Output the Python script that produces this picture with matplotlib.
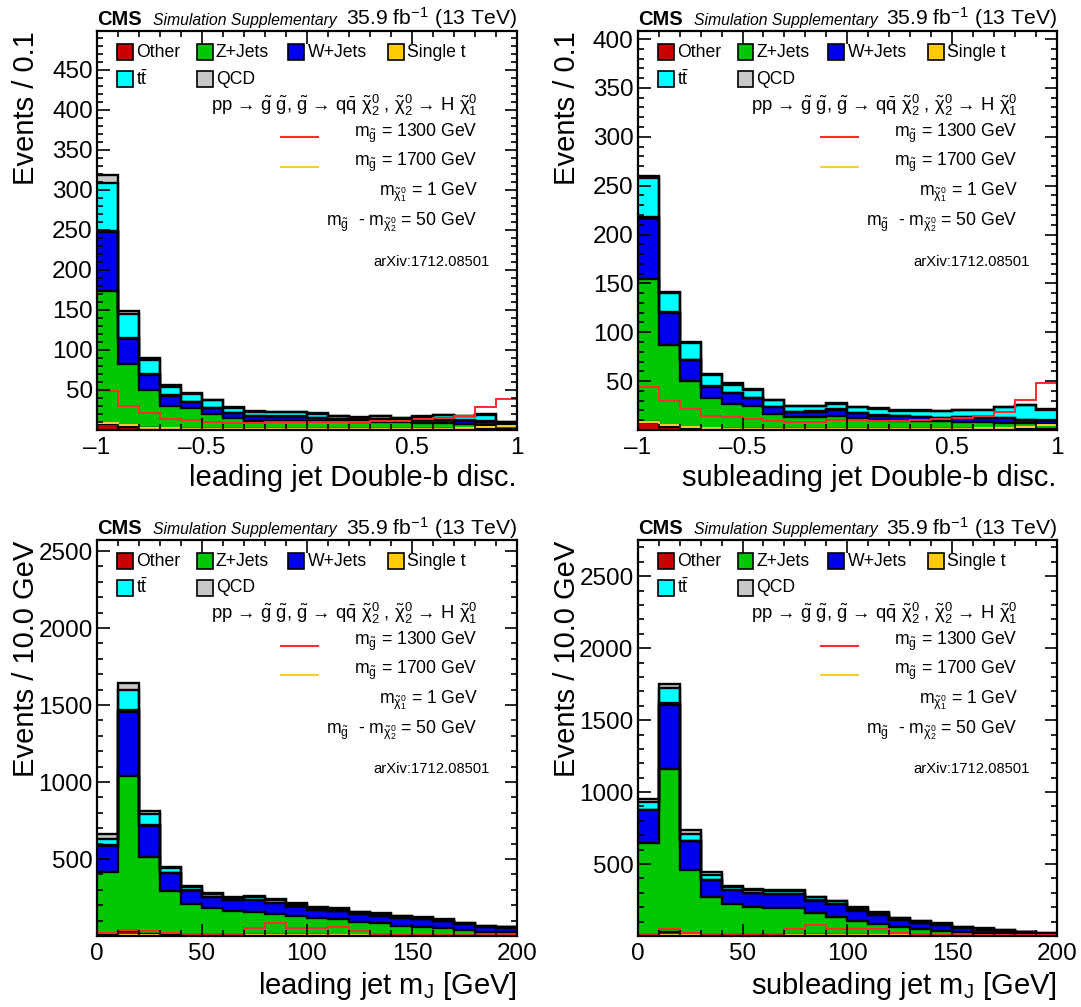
import numpy as np
import matplotlib
matplotlib.use("Agg")
import matplotlib.pyplot as plt
from matplotlib.patches import Rectangle
from matplotlib.ticker import MultipleLocator, FuncFormatter

plt.rcParams['font.family'] = ['Liberation Sans', 'DejaVu Sans']
plt.rcParams['mathtext.fontset'] = 'custom'
plt.rcParams['mathtext.rm'] = 'Liberation Sans'
plt.rcParams['mathtext.it'] = 'Liberation Sans'
plt.rcParams['mathtext.bf'] = 'Liberation Sans:bold'

# backgrounds, stacked bottom -> top in legend order
names = ['Other', 'Z+Jets', 'W+Jets', 'Single t', r't$\bar{t}$', 'QCD']
colors = ['#cc0000', '#00c800', '#0000f0', '#ffcc00', '#00ffff', '#c8c8c8']

disc_edges = np.linspace(-1, 1, 21)
mass_edges = np.linspace(0, 200, 21)

# leading jet double-b
tl_other = [8, 4, 2, 1.5, 1.5, 1, 1, 1, 1, 1, 1, 1, 1, 1, 1, 1, 1, 1, 1, 1]
tl_zjets = [166, 78, 48, 28.5, 25.5, 19, 13.6, 10.7, 10.7, 10.7, 10.5, 10, 9.5, 9, 8.5, 8, 7.3, 6.5, 5.7, 4.4]
tl_wjets = [73, 32, 19, 13, 8, 7, 6.4, 5.8, 5, 5, 3.5, 3, 2.5, 3, 2.5, 3, 4.7, 4.2, 3.7, 1.1]
tl_singlet = [2, 1, 0.5, 0.5, 0.5, 0.3, 0.3, 0.3, 0.3, 0.3, 0.3, 0.3, 0.3, 0.3, 0.3, 0.3, 0.5, 0.5, 0.5, 0.5]
tl_ttbar = [60, 30, 18.5, 10.5, 9.5, 9.7, 6.7, 5.2, 5.5, 5.5, 5.2, 2.7, 2.2, 3.7, 2.7, 4.2, 5, 4.8, 8.1, 3]
tl_qcd = [9, 3, 2, 2, 1, 1, 0.5, 1, 0.5, 0.5, 0.5, 0.5, 0.5, 0.5, 0.5, 0.5, 0.5, 0.5, 0.6, 0.4]
tl_sig1300 = [49, 30, 21, 14, 12.5, 10, 9.2, 9, 9.6, 10.4, 10.4, 10.4, 10.4, 11.7, 11.7, 13.3, 14.6, 17.5, 28.3, 38.7]
tl_sig1700 = [9, 6, 3, 2, 1.5, 1.2, 1, 1, 1, 1, 1, 1, 1, 1.2, 1.2, 1.5, 1.8, 2.5, 3.5, 4.5]

# subleading jet double-b
tr_other = [8, 3, 2, 1.5, 1.5, 1, 1, 1, 1, 1, 1, 1, 1, 1, 1, 1, 1, 1, 1, 1]
tr_zjets = [146, 83.8, 48.4, 31.3, 25.5, 23.1, 15.6, 12.6, 12.6, 13.6, 11.6, 9.5, 8.2, 7.8, 7.8, 7.5, 6.8, 6.1, 5.8, 5.1]
tr_wjets = [61.5, 32.6, 21, 11.2, 10.4, 8.5, 6.8, 4.4, 5.1, 6.1, 4.7, 4.1, 4.7, 4.1, 3.4, 4.4, 4.1, 5.1, 3.4, 3.4]
tr_singlet = [2.5, 1, 0.5, 0.5, 0.5, 0.3, 0.3, 0.3, 0.3, 0.3, 0.3, 0.3, 0.3, 0.3, 0.3, 0.3, 0.5, 0.5, 0.5, 0.5]
tr_ttbar = [40, 20, 16.8, 11.5, 8.1, 8.1, 6.7, 6, 5.3, 6, 5.7, 6.7, 5.7, 6.3, 6.7, 7, 8, 10.8, 14.5, 10.5]
tr_qcd = [2, 1, 1.3, 1, 1.9, 0.8, 0.5, 0.5, 0.5, 0.5, 0.5, 0.5, 0.5, 0.5, 0.5, 0.5, 0.5, 0.5, 0.5, 0.5]
tr_sig1300 = [43.5, 30, 21.4, 14.6, 13, 11.2, 9.5, 8.5, 8.5, 10.5, 10.2, 9.5, 9.5, 10.2, 11.6, 11.9, 13.9, 18, 30.9, 47.6]
tr_sig1700 = [8, 5, 3, 2, 1.5, 1.2, 1, 1, 1, 1, 1, 1, 1, 1.2, 1.2, 1.5, 1.8, 2.5, 3.5, 5]

# leading jet mass
bl_other = [8, 35, 15, 5, 4, 4, 4, 5, 4, 4, 4, 3, 3, 3, 2, 2, 2, 2, 2, 2]
bl_zjets = [409, 1003, 500, 287, 204, 176, 160, 153, 139, 126, 110, 105, 90, 79, 65, 59, 48, 37, 26, 26]
bl_wjets = [167, 418, 201, 115, 87, 71, 69, 77, 71, 61, 53, 54, 48, 48, 48, 47, 46, 37, 30, 27]
bl_singlet = [7, 10, 5, 3, 2, 2, 2, 2, 2, 2, 2, 2, 2, 2, 1, 1, 1, 1, 1, 1]
bl_ttbar = [39, 130, 71, 29, 19, 17, 15, 18, 17, 15, 13, 13, 12, 12, 11, 10, 9, 8, 6, 4]
bl_qcd = [30, 48, 19, 11, 11, 7, 5, 5, 5, 4, 4, 3, 3, 3, 3, 2, 2, 2, 2, 1]
bl_sig1300 = [17, 39, 30, 17, 11, 11, 11, 50, 87, 54, 54, 61, 32, 13, 6, 6, 6, 6, 6, 6]
bl_sig1700 = [3, 5, 4, 3, 3, 3, 3, 4, 6, 6, 7, 7, 5, 3, 2, 2, 2, 2, 2, 2]

# subleading jet mass
br_other = [10, 30, 12, 5, 4, 4, 4, 5, 5, 4, 4, 3, 3, 3, 2, 2, 2, 2, 2, 2]
br_zjets = [637, 1131, 450, 268, 216, 200, 188, 187, 152, 130, 102, 80, 62, 43, 35, 28, 21, 16, 12, 6]
br_wjets = [226, 446, 195, 116, 99, 95, 101, 97, 89, 86, 70, 63, 47, 46, 40, 26, 22, 17, 11, 8]
br_singlet = [6, 12, 5, 3, 2, 2, 2, 2, 2, 2, 2, 1, 1, 1, 1, 1, 1, 1, 1, 1]
br_ttbar = [54, 107, 49, 31, 20, 18, 20, 24, 20, 19, 17, 14, 11, 9, 8, 6, 5, 4, 3, 2]
br_qcd = [16, 27, 24, 23, 8, 5, 5, 5, 5, 4, 4, 3, 3, 2, 2, 2, 2, 2, 1, 1]
br_sig1300 = [16, 46, 23, 12, 7, 7, 7, 46, 74, 46, 46, 46, 23, 12, 5, 5, 5, 5, 5, 5]
br_sig1700 = [3, 6, 4, 3, 3, 3, 3, 5, 7, 7, 7, 7, 5, 3, 2, 2, 2, 2, 2, 2]

TXT = 12.7


def root_fmt(v, pos):
    return ('%g' % v).replace('-', '\u2013')


def draw_panel(ax, edges, stack, sig1300, sig1700, ymax, ymaj, ymin, xmaj, xmin,
               xlabel, ylabel):
    base = np.zeros(len(edges) - 1)
    tops = []
    for vals, col in zip(stack, colors):
        top = base + np.array(vals, dtype=float)
        ax.stairs(top, edges, baseline=base, fill=True, color=col, lw=0)
        tops.append(top)
        base = top
    for top in tops:
        ax.stairs(top, edges, baseline=None, color='black', lw=1.7)
    ax.stairs(sig1300, edges, baseline=None, color='#ff2a2a', lw=1.4)
    ax.stairs(sig1700, edges, baseline=None, color='#ffcc33', lw=1.4)

    ax.set_xlim(edges[0], edges[-1])
    ax.set_ylim(0, ymax)
    ax.set_yticks(np.arange(ymaj, ymax, ymaj))
    ax.yaxis.set_minor_locator(MultipleLocator(ymin))
    ax.xaxis.set_major_locator(MultipleLocator(xmaj))
    ax.xaxis.set_minor_locator(MultipleLocator(xmin))
    ax.xaxis.set_major_formatter(FuncFormatter(root_fmt))
    ax.tick_params(which='both', direction='in', top=True, right=True,
                   labelsize=17.5, width=1.2)
    ax.tick_params(which='major', length=9)
    ax.tick_params(which='minor', length=4.5)
    ax.tick_params(axis='x', pad=5)
    ax.tick_params(axis='y', pad=3)
    for sp in ax.spines.values():
        sp.set_linewidth(1.6)

    ax.text(1.0, -0.085, xlabel, transform=ax.transAxes, ha='right', va='top', fontsize=21)
    ax.text(-0.17, 1.0, ylabel, transform=ax.transAxes, ha='center', va='top',
            rotation=90, fontsize=21)

    # header
    ax.text(0.0, 1.015, 'CMS', transform=ax.transAxes, fontsize=14.5,
            fontweight='bold', va='baseline')
    ax.text(0.133, 1.015, 'Simulation Supplementary', transform=ax.transAxes,
            fontsize=11.3, style='italic', va='baseline')
    ax.text(1.0, 1.015, r'35.9 fb$^{-1}$ (13 TeV)', transform=ax.transAxes,
            fontsize=15.2, ha='right', va='baseline')

    # legend
    box_x = [0.048, 0.238, 0.455, 0.693, 0.048, 0.238]
    txt_x = [0.093, 0.283, 0.502, 0.738, 0.093, 0.283]
    row_y = [0.947, 0.947, 0.947, 0.947, 0.880, 0.880]
    for i in range(6):
        ax.add_patch(Rectangle((box_x[i], row_y[i] - 0.02), 0.038, 0.04,
                               transform=ax.transAxes, facecolor=colors[i],
                               edgecolor='black', lw=1.2))
        ax.text(txt_x[i], row_y[i], names[i], transform=ax.transAxes,
                fontsize=TXT, va='center')

    ax.text(0.907, 0.815,
            'pp \u2192 $\\tilde{g}$ $\\tilde{g}$, $\\tilde{g}$ \u2192 q$\\bar{q}$ '
            '$\\tilde{\\chi}^{0}_{2}$ , $\\tilde{\\chi}^{0}_{2}$ \u2192 H $\\tilde{\\chi}^{0}_{1}$',
            transform=ax.transAxes, fontsize=13.3, ha='right', va='center')
    ax.plot([0.438, 0.526], [0.734, 0.734], transform=ax.transAxes, color='#ff2a2a', lw=1.5)
    ax.text(0.907, 0.745, r'm$_{\tilde{g}}$ = 1300 GeV', transform=ax.transAxes,
            fontsize=TXT, ha='right', va='center')
    ax.plot([0.438, 0.526], [0.659, 0.659], transform=ax.transAxes, color='#ffcc33', lw=1.5)
    ax.text(0.907, 0.670, r'm$_{\tilde{g}}$ = 1700 GeV', transform=ax.transAxes,
            fontsize=TXT, ha='right', va='center')
    ax.text(0.907, 0.595, r'm$_{\tilde{\chi}^{0}_{1}}$ = 1 GeV', transform=ax.transAxes,
            fontsize=TXT, ha='right', va='center')
    ax.text(0.907, 0.520, r'm$_{\tilde{g}}$  - m$_{\tilde{\chi}^{0}_{2}}$ = 50 GeV',
            transform=ax.transAxes, fontsize=TXT, ha='right', va='center')
    ax.text(0.936, 0.421, 'arXiv:1712.08501', transform=ax.transAxes,
            fontsize=10.6, ha='right', va='center')


fig = plt.figure(figsize=(10.81, 10.07), dpi=100)
ax1 = fig.add_axes([0.0897, 0.573, 0.3885, 0.396])
ax2 = fig.add_axes([0.590, 0.573, 0.3876, 0.396])
ax3 = fig.add_axes([0.0897, 0.0705, 0.3885, 0.393])
ax4 = fig.add_axes([0.590, 0.0705, 0.3876, 0.393])

draw_panel(ax1, disc_edges, [tl_other, tl_zjets, tl_wjets, tl_singlet, tl_ttbar, tl_qcd],
           tl_sig1300, tl_sig1700, 498, 50, 10, 0.5, 0.1,
           'leading jet Double-b disc.', 'Events / 0.1')
draw_panel(ax2, disc_edges, [tr_other, tr_zjets, tr_wjets, tr_singlet, tr_ttbar, tr_qcd],
           tr_sig1300, tr_sig1700, 408, 50, 10, 0.5, 0.1,
           'subleading jet Double-b disc.', 'Events / 0.1')
draw_panel(ax3, mass_edges, [bl_other, bl_zjets, bl_wjets, bl_singlet, bl_ttbar, bl_qcd],
           bl_sig1300, bl_sig1700, 2570, 500, 100, 50, 10,
           r'leading jet m$_{J}$ [GeV]', 'Events / 10.0 GeV')
draw_panel(ax4, mass_edges, [br_other, br_zjets, br_wjets, br_singlet, br_ttbar, br_qcd],
           br_sig1300, br_sig1700, 2750, 500, 100, 50, 10,
           r'subleading jet m$_{J}$ [GeV]', 'Events / 10.0 GeV')

fig.savefig('out.png', dpi=100)
